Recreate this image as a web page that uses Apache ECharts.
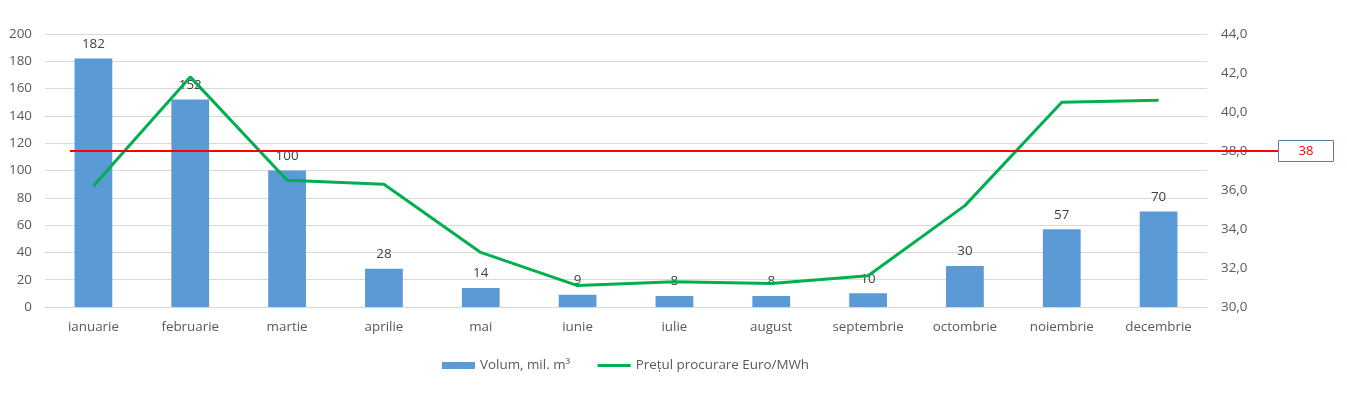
<!doctype html>
<html>
<head>
    <meta charset="utf-8">
    <title>Volum si pret</title>
    <script src="https://cdn.jsdelivr.net/npm/echarts@6/dist/echarts.min.js"></script>
    <style>
        html, body{
            margin: 0;
            padding: 0;
            background-color: #fff;
        }
        #chartBox{
            width: 1347px;
            height: 399px;
        }
    </style>
</head>
<body>
    <div id="chartBox"></div>
<script type="text/javascript">
    // luni
    var months = ["ianuarie","februarie","martie","aprilie","mai","iunie","iulie","august","septembrie","octombrie","noiembrie","decembrie"];
    // volum, mil. m3
    var volumData = [182, 152, 100, 28, 14, 9, 8, 8, 10, 30, 57, 70];
    // pret procurare Euro/MWh
    var pretData = [36.2, 41.8, 36.5, 36.3, 32.8, 31.1, 31.3, 31.2, 31.6, 35.2, 40.5, 40.6];
    // nivel de referinta
    var refPret = 38;

    var fontName = '"Open Sans", sans-serif';
    var fs = 13.4;

    var myChart = echarts.init(document.getElementById("chartBox"));
    var option = {
        animation: false,
        textStyle: { fontFamily: fontName },
        grid: {
            left: 45,
            right: 140,
            top: 34,
            bottom: 92,
            containLabel: false
        },
        legend: {
            left: 437,
            top: 354,
            itemWidth: 33,
            itemHeight: 7,
            itemGap: 26,
            textStyle: { color: '#595959', fontSize: fs, fontFamily: fontName },
            data: [
                { name: 'Volum, mil. m³', icon: 'rect' },
                { name: 'Prețul procurare Euro/MWh', itemStyle: { opacity: 0 }, lineStyle: { width: 3 } }
            ]
        },
        xAxis: {
            type: 'category',
            data: months,
            axisLine: { lineStyle: { color: '#d9d9d9' } },
            axisTick: { show: false },
            axisLabel: { color: '#595959', fontSize: fs, margin: 14 }
        },
        yAxis: [{
            type: 'value',
            min: 0,
            max: 200,
            interval: 20,
            axisLine: { show: false },
            axisTick: { show: false },
            axisLabel: { color: '#595959', fontSize: fs, margin: 13 },
            splitLine: { lineStyle: { color: '#d9d9d9' } }
        }, {
            type: 'value',
            min: 30,
            max: 44,
            interval: 2,
            axisLine: { show: false },
            axisTick: { show: false },
            axisLabel: {
                color: '#595959',
                fontSize: fs,
                margin: 14,
                formatter: function (v) { return v.toFixed(1).replace('.', ','); }
            },
            splitLine: { show: false }
        }],
        series: [{
            name: 'Volum, mil. m³',
            type: 'bar',
            data: volumData,
            barWidth: '39%',
            itemStyle: { color: '#5b9bd5' },
            label: {
                show: true,
                position: 'top',
                distance: 8,
                color: '#404040',
                fontSize: fs
            }
        }, {
            name: 'Prețul procurare Euro/MWh',
            type: 'line',
            yAxisIndex: 1,
            data: pretData,
            symbol: 'none',
            z: 3,
            lineStyle: { color: '#00b050', width: 3 },
            itemStyle: { color: '#00b050' }
        }]
    };
    myChart.setOption(option);

    // linia rosie de referinta + caseta
    var refY = Math.round(myChart.convertToPixel({ yAxisIndex: 1 }, refPret));
    myChart.setOption({
        graphic: [{
            type: 'line',
            z: 10,
            shape: { x1: 70, y1: refY, x2: 1278, y2: refY },
            style: { stroke: '#ff0000', lineWidth: 2 }
        }, {
            type: 'rect',
            z: 10,
            shape: { x: 1278.5, y: refY - 10.5, width: 55, height: 21 },
            style: { fill: '#fff', stroke: '#5b7fa6', lineWidth: 1 }
        }, {
            type: 'text',
            z: 11,
            x: 1306,
            y: refY,
            style: {
                text: String(refPret),
                fill: '#ff0000',
                font: '13px ' + fontName,
                align: 'center',
                verticalAlign: 'middle'
            }
        }]
    });
</script>
</body>
</html>
